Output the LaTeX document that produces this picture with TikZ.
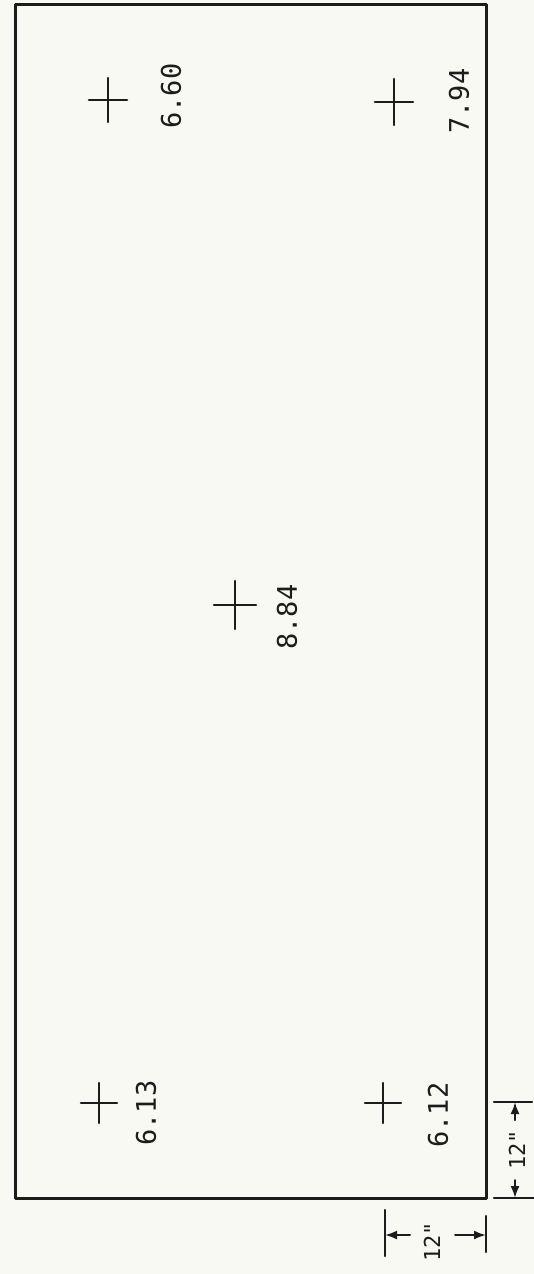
\documentclass[tikz,border=0pt]{standalone}
\usepackage{fontspec}
\setmonofont{DejaVu Sans Mono}
\usetikzlibrary{arrows.meta}
\definecolor{paper}{RGB}{249,249,243}
\definecolor{ink}{RGB}{28,28,28}

\begin{document}
\begin{tikzpicture}[line cap=round,line join=round,x=1pt,y=-1pt,
    lbl/.style={rotate=90,inner sep=0pt,text=ink,font=\ttfamily\fontsize{27}{27}\selectfont},
    dimlbl/.style={rotate=90,inner sep=0pt,text=ink,font=\ttfamily\fontsize{22}{22}\selectfont},
    crossline/.style={line width=2.6pt,color=ink},
    dimline/.style={line width=2.2pt,color=ink},
    dimarrow/.style={-{Latex[length=12pt,width=9pt]},line width=2pt,color=ink}]
  \fill[paper] (0,0) rectangle (534,1274);
  \useasboundingbox (0,0) rectangle (534,1274);

  % slab outline
  \draw [line width=3pt,color=ink] (15,4) rectangle (486,1198);

  % measuring points
  \coordinate (p660) at (108,100);
  \coordinate (p794) at (394,102);
  \coordinate (p884) at (235,605);
  \coordinate (p613) at (99,1103);
  \coordinate (p612) at (383,1103);

  \draw [crossline,shift={(p660)}] (-19,0) -- (19,0) (0,-22) -- (0,22);
  \draw [crossline,shift={(p794)}] (-19,0) -- (19,0) (0,-23) -- (0,23);
  \draw [crossline,shift={(p884)}] (-21,0) -- (21,0) (0,-24) -- (0,24);
  \draw [crossline,shift={(p613)}] (-18,0) -- (18,0) (0,-20) -- (0,20);
  \draw [crossline,shift={(p612)}] (-18,0) -- (18,0) (0,-20) -- (0,20);

  \node[lbl] (v660) at (171,96) {6.60};
  \node[lbl] (v794) at (459,101) {7.94};
  \node[lbl] (v884) at (287,617) {8.84};
  \node[lbl] (v613) at (146,1113) {6.13};
  \node[lbl] (v612) at (438,1115) {6.12};

  % 12" below the slab
  \coordinate (bl) at (385,1235);
  \coordinate (br) at (486,1235);
  \coordinate (bls) at (410,1235);
  \coordinate (brs) at (455,1235);
  \draw [dimline] (385,1210) -- (385,1256);
  \draw [dimline] (486,1216) -- (486,1252);
  \node[dimlbl] (dimb) at (432,1242) {12"};
  \draw [dimarrow] (bls) -- (bl);
  \draw [dimarrow] (brs) -- (br);

  % 12" right of the slab
  \coordinate (rt) at (515,1102);
  \coordinate (rb) at (515,1198);
  \coordinate (rts) at (515,1120);
  \coordinate (rbs) at (515,1180);
  \draw [dimline] (494,1102) -- (532,1102);
  \draw [dimline] (494,1198) -- (534,1198);
  \node[dimlbl] (dimr) at (517,1150) {12"};
  \draw [dimarrow] (rts) -- (rt);
  \draw [dimarrow] (rbs) -- (rb);
\end{tikzpicture}
\end{document}
